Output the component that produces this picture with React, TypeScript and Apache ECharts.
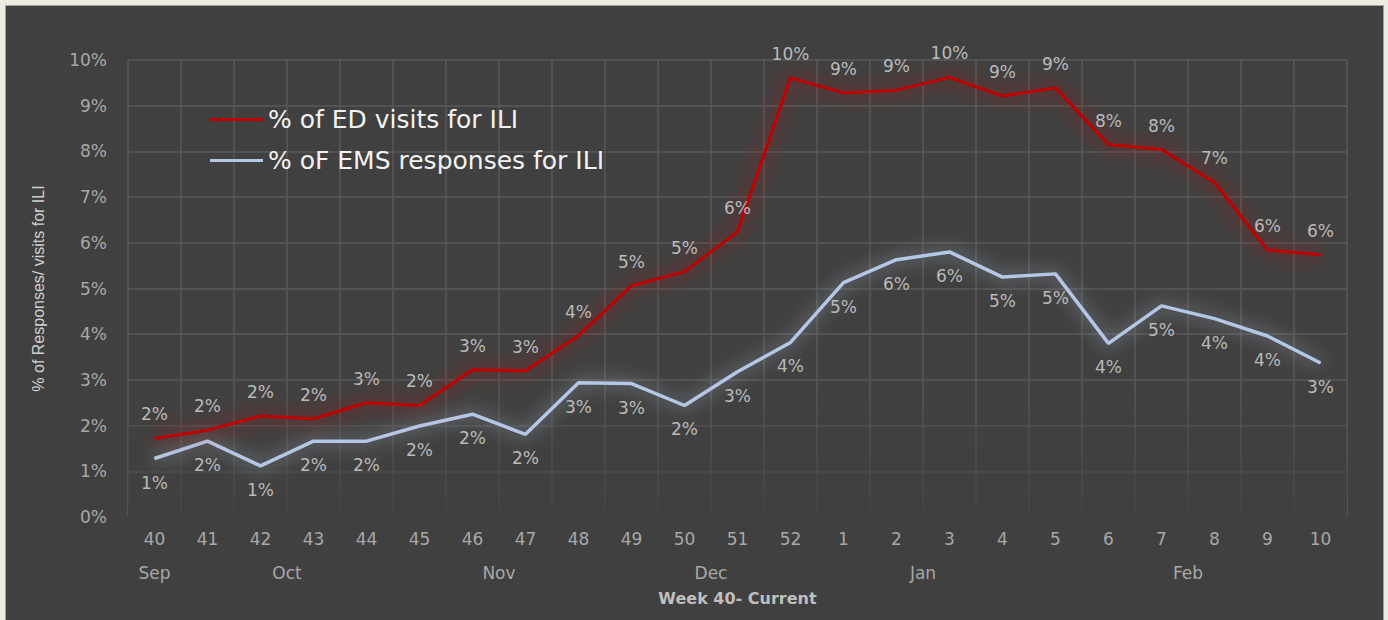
import React, { useEffect, useRef } from 'react';
import * as echarts from 'echarts';

const weeks = ['40', '41', '42', '43', '44', '45', '46', '47', '48', '49', '50', '51', '52', '1', '2', '3', '4', '5', '6', '7', '8', '9', '10'];
const edVisits = [1.72, 1.9, 2.21, 2.15, 2.5, 2.44, 3.22, 3.2, 3.97, 5.06, 5.37, 6.24, 9.61, 9.28, 9.34, 9.62, 9.21, 9.39, 8.15, 8.04, 7.32, 5.84, 5.74];
const emsResponses = [1.28, 1.66, 1.12, 1.66, 1.66, 1.99, 2.25, 1.81, 2.94, 2.92, 2.44, 3.18, 3.82, 5.13, 5.63, 5.8, 5.25, 5.32, 3.8, 4.62, 4.34, 3.96, 3.37];
const months = ['Sep', 'Oct', 'Nov', 'Dec', 'Jan', 'Feb'];
const monthWeekCounts = [1, 4, 4, 4, 4, 6];
const seriesNames = ['% of ED visits for ILI', '% oF EMS responses for ILI'];
const yAxisTitle = '% of Responses/ visits for ILI';
const xAxisTitle = 'Week 40- Current';

const monthCenters: number[] = [];
{
  let start = 0;
  for (const c of monthWeekCounts) {
    monthCenters.push(start + c / 2);
    start += c;
  }
}

const FONT = "'DejaVu Sans', Verdana, sans-serif";
const LABEL_COLOR = '#a8a8a8';
const RED = '#c00000';
const BLUE = '#b4c7e7';

export default function App() {
  const ref = useRef<HTMLDivElement>(null);
  useEffect(() => {
    if (!ref.current) return;
    const chart = echarts.init(ref.current, null, { renderer: 'svg' });
    const dataLabel = (position: string) => ({
      show: true,
      position,
      distance: 15,
      color: '#bababa',
      fontSize: 17,
      fontFamily: FONT,
      formatter: (p: any) => `${Math.round(p.value)}%`,
    });
    chart.setOption({
      animation: false,
      backgroundColor: '#404040',
      grid: { left: 122, right: 36, top: 54, bottom: 103 },
      legend: {
        orient: 'vertical',
        left: 199,
        top: 96,
        itemWidth: 53,
        itemHeight: 3,
        itemGap: 16,
        icon: 'rect',
        textStyle: { color: '#f2f2f2', fontSize: 25, fontFamily: FONT },
        data: seriesNames,
      },
      graphic: [
        {
          type: 'rect',
          z: 1,
          silent: true,
          shape: { x: 122, y: 370, width: 1219, height: 143 },
          style: {
            fill: new echarts.graphic.LinearGradient(0, 0, 0, 1, [
              { offset: 0, color: 'rgba(64,64,64,0)' },
              { offset: 1, color: 'rgba(64,64,64,0.85)' },
            ]),
          },
        },
      ],
      xAxis: [
        {
          type: 'category',
          data: weeks,
          boundaryGap: true,
          axisLine: { show: false },
          axisTick: { show: false },
          axisLabel: { color: LABEL_COLOR, fontSize: 17, fontFamily: FONT, margin: 13, interval: 0 },
          splitLine: { show: true, interval: 0, lineStyle: { color: '#585858', width: 1.5 } },
        },
        {
          type: 'value',
          min: 0,
          max: weeks.length,
          position: 'bottom',
          axisLine: { show: false },
          axisTick: { show: false },
          splitLine: { show: false },
          axisLabel: {
            color: LABEL_COLOR,
            fontSize: 17,
            fontFamily: FONT,
            margin: 47,
            customValues: monthCenters,
            formatter: (v: number) => {
              const i = monthCenters.findIndex((c) => Math.abs(c - v) < 1e-6);
              return i >= 0 ? months[i] : '';
            },
          },
          name: xAxisTitle,
          nameLocation: 'middle',
          nameGap: 73,
          nameTextStyle: { color: '#bfbfbf', fontSize: 16, fontWeight: 'bold', fontFamily: FONT },
        },
      ],
      yAxis: {
        type: 'value',
        min: 0,
        max: 10,
        interval: 1,
        axisLine: { show: false },
        axisTick: { show: false },
        axisLabel: {
          color: LABEL_COLOR,
          fontSize: 17,
          fontFamily: FONT,
          margin: 21,
          formatter: (v: number) => `${v}%`,
        },
        splitLine: { show: true, lineStyle: { color: '#585858', width: 1.5 } },
        name: yAxisTitle,
        nameLocation: 'middle',
        nameRotate: 90,
        nameGap: 82,
        nameTextStyle: { color: '#cfcfcf', fontSize: 16, fontFamily: "'Liberation Sans Narrow', 'Liberation Sans', sans-serif" },
      },
      series: [
        {
          name: seriesNames[0],
          type: 'line',
          data: edVisits,
          symbol: 'circle',
          symbolSize: 1,
          showSymbol: true,
          color: RED,
          itemStyle: { color: RED },
          z: 3,
          lineStyle: { color: RED, width: 3, shadowBlur: 20, shadowColor: 'rgba(220,0,0,0.95)' },
          label: dataLabel('top'),
        },
        {
          name: seriesNames[1],
          type: 'line',
          data: emsResponses,
          symbol: 'circle',
          symbolSize: 1,
          showSymbol: true,
          color: BLUE,
          itemStyle: { color: BLUE },
          z: 2,
          lineStyle: { color: BLUE, width: 3.5, shadowBlur: 18, shadowColor: 'rgba(200,215,240,0.75)' },
          label: dataLabel('bottom'),
        },
      ],
    });
    return () => chart.dispose();
  }, []);

  return (
    <div style={{ position: 'absolute', left: 0, top: 0, width: 1388, height: 620, background: '#eeece1', overflow: 'hidden' }}>
      <div
        ref={ref}
        style={{ position: 'absolute', left: 6, top: 6, width: 1377, height: 614, boxShadow: '0 0 0 1px #a0a0a0' }}
      />
    </div>
  );
}
